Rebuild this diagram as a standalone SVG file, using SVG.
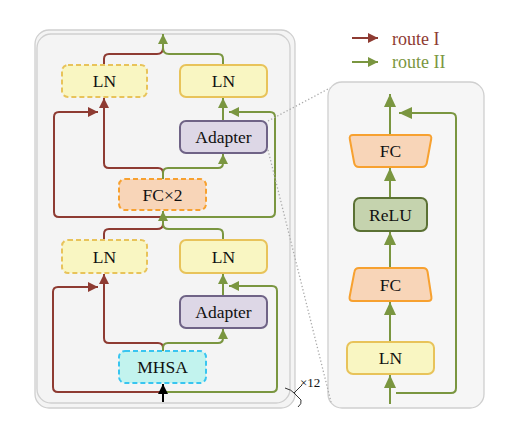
<svg xmlns="http://www.w3.org/2000/svg" width="514" height="430" viewBox="0 0 514 430">
<style>
text{font-family:"Liberation Serif","Times New Roman",serif;font-size:17.5px;fill:#111;text-anchor:middle}
.r{fill:none;stroke:#8e3b32;stroke-width:2}
.g{fill:none;stroke:#7a9640;stroke-width:2}
.ln{fill:#f9f6c2;stroke:#e8c35a;stroke-width:2}
.ad{fill:#ddd7e6;stroke:#6f6386;stroke-width:2}
.fc{fill:#f8d5b8;stroke:#f7a130;stroke-width:2;stroke-linejoin:round}
.mh{fill:#c2f3ee;stroke:#38c5f0;stroke-width:2}
.relu{fill:#c5d3ae;stroke:#5b7134;stroke-width:2}
.d{stroke-dasharray:5 3}
.dot{fill:none;stroke:#aaa;stroke-width:1.3;stroke-dasharray:1.3 2.2}
.panel{fill:#f4f4f4;stroke:#cfcfcf;stroke-width:1.3}
</style>
<defs>
<marker id="ar" markerUnits="userSpaceOnUse" markerWidth="11" markerHeight="10" refX="10" refY="5" orient="auto"><path d="M0,0 L10,5 L0,10 z" fill="#8e3b32"/></marker>
<marker id="ag" markerUnits="userSpaceOnUse" markerWidth="11" markerHeight="10" refX="10" refY="5" orient="auto"><path d="M0,0 L10,5 L0,10 z" fill="#7a9640"/></marker>
<marker id="agl" markerUnits="userSpaceOnUse" markerWidth="14" markerHeight="12" refX="13" refY="6" orient="auto"><path d="M0,0 L13,6 L0,12 z" fill="#7a9640"/></marker>
<marker id="ak" markerUnits="userSpaceOnUse" markerWidth="11" markerHeight="10" refX="10" refY="5" orient="auto"><path d="M0,0 L10,5 L0,10 z" fill="#000"/></marker>
</defs>

<g id="left-panel">
<rect class="panel" x="35" y="30" width="260" height="378" rx="14"/>
<rect class="panel" x="37" y="34" width="253" height="369" rx="14"/>
</g>
<g id="right-panel">
<rect class="panel" x="328" y="82" width="156" height="326" rx="14" style="fill:#f6f6f6"/>
</g>

<g id="legend">
<path class="r" d="M352,38 H378" marker-end="url(#ar)"/>
<text x="392" y="45" style="text-anchor:start;font-size:18px;fill:#8e3b32">route I</text>
<path class="g" d="M352,62 H378" marker-end="url(#ag)"/>
<text x="392" y="68" style="text-anchor:start;font-size:18px;fill:#7a9640">route II</text>
</g>

<g id="connectors">
<path class="r" d="M104,65 V59 Q104,54 109,54 H157 Q163,54 163,48"/>
<path class="g" d="M223,65 V59 Q223,54 218,54 H169 Q163,54 163,48 V34" marker-end="url(#ag)"/>
<path class="r" d="M163,179 V173 Q163,168 158,168 H109 Q104,168 104,163 V98" marker-end="url(#ar)"/>
<path class="g" d="M163,179 V173 Q163,168 168,168 H218 Q223,168 223,163 V154" marker-end="url(#ag)"/>
<path class="g" d="M223,121 V98" marker-end="url(#ag)"/>
<path class="r" d="M163,217 H59 Q54,217 54,212 V117 Q54,112 59,112 H98" marker-end="url(#ar)"/>
<path class="g" d="M163,217 H270 Q275,217 275,212 V117 Q275,112 270,112 H229" marker-end="url(#ag)"/>
<path class="r" d="M104,240 V234 Q104,229 109,229 H157 Q163,229 163,224"/>
<path class="g" d="M223,240 V234 Q223,229 218,229 H169 Q163,229 163,224 V211" marker-end="url(#ag)"/>
<path class="r" d="M163,351 V348 Q163,343 158,343 H109 Q104,343 104,338 V274" marker-end="url(#ar)"/>
<path class="g" d="M163,351 V348 Q163,343 168,343 H218 Q223,343 223,338 V329" marker-end="url(#ag)"/>
<path class="g" d="M223,296 V274" marker-end="url(#ag)"/>
<path class="r" d="M163,392 H58 Q53,392 53,387 V292 Q53,287 58,287 H98" marker-end="url(#ar)"/>
<path class="g" d="M163,392 H272 Q277,392 277,387 V291 Q277,286 272,286 H229" marker-end="url(#ag)"/>
<path d="M163,402 V384" fill="none" stroke="#000" stroke-width="2" marker-end="url(#ak)"/>
<path class="g" d="M390,404 V375" marker-end="url(#agl)"/>
<path class="g" d="M390,342 V302" marker-end="url(#agl)"/>
<path class="g" d="M390,268 V232" marker-end="url(#agl)"/>
<path class="g" d="M390,198 V168" marker-end="url(#agl)"/>
<path class="g" d="M390,135 V94" marker-end="url(#agl)"/>
<path class="g" d="M396,393 H451 Q456,393 456,388 V118 Q456,113 451,113 H399" marker-end="url(#agl)"/>
<path class="dot" d="M268,121 L330,88"/>
<path class="dot" d="M268,150 L331,402"/>
</g>

<g id="ln-dashed-top"><rect class="ln d" x="62" y="65" width="85" height="32" rx="6"/><text x="104.5" y="87">LN</text></g>
<g id="ln-top"><rect class="ln" x="180" y="65" width="87" height="32" rx="6"/><text x="223.5" y="87">LN</text></g>
<g id="adapter-top"><rect class="ad" x="180" y="121" width="87" height="32" rx="6"/><text x="223.5" y="143">Adapter</text></g>
<g id="fcx2"><rect class="fc d" x="119" y="179" width="87" height="31" rx="6"/><text x="162.5" y="200.5">FC×2</text></g>
<g id="ln-dashed-bottom"><rect class="ln d" x="62" y="240" width="85" height="33" rx="6"/><text x="104.5" y="262.5">LN</text></g>
<g id="ln-bottom"><rect class="ln" x="180" y="240" width="87" height="33" rx="6"/><text x="223.5" y="262.5">LN</text></g>
<g id="adapter-bottom"><rect class="ad" x="180" y="296" width="87" height="32" rx="6"/><text x="223.5" y="318">Adapter</text></g>
<g id="mhsa"><rect class="mh d" x="119" y="351" width="87" height="32" rx="6"/><text x="162.5" y="373">MHSA</text></g>

<g id="repeat">
<path d="M285,388 Q292,390 294,393 L301,400 Q302,404 298,407 M294,393 L302,385" fill="none" stroke="#333" stroke-width="1"/>
<text x="300" y="387" style="text-anchor:start;font-size:13px">×12</text>
</g>

<g id="fc-top"><path class="fc" d="M353,135 H428 Q432,135 431.2,139 L426.8,163 Q426,167 422,167 H359 Q355,167 354.2,163 L349.8,139 Q349,135 353,135 Z"/><text x="390.5" y="157">FC</text></g>
<g id="relu"><rect class="relu" x="354" y="198" width="73" height="33" rx="6"/><text x="390.5" y="220.5">ReLU</text></g>
<g id="fc-bottom"><path class="fc" d="M359,268 H423 Q427,268 427.6,272 L431.4,297 Q432,301 428,301 H353 Q349,301 349.6,297 L354.4,272 Q355,268 359,268 Z"/><text x="390.5" y="290.5">FC</text></g>
<g id="ln-right"><rect class="ln" x="347" y="342" width="87" height="32" rx="6"/><text x="390.5" y="364">LN</text></g>
</svg>
